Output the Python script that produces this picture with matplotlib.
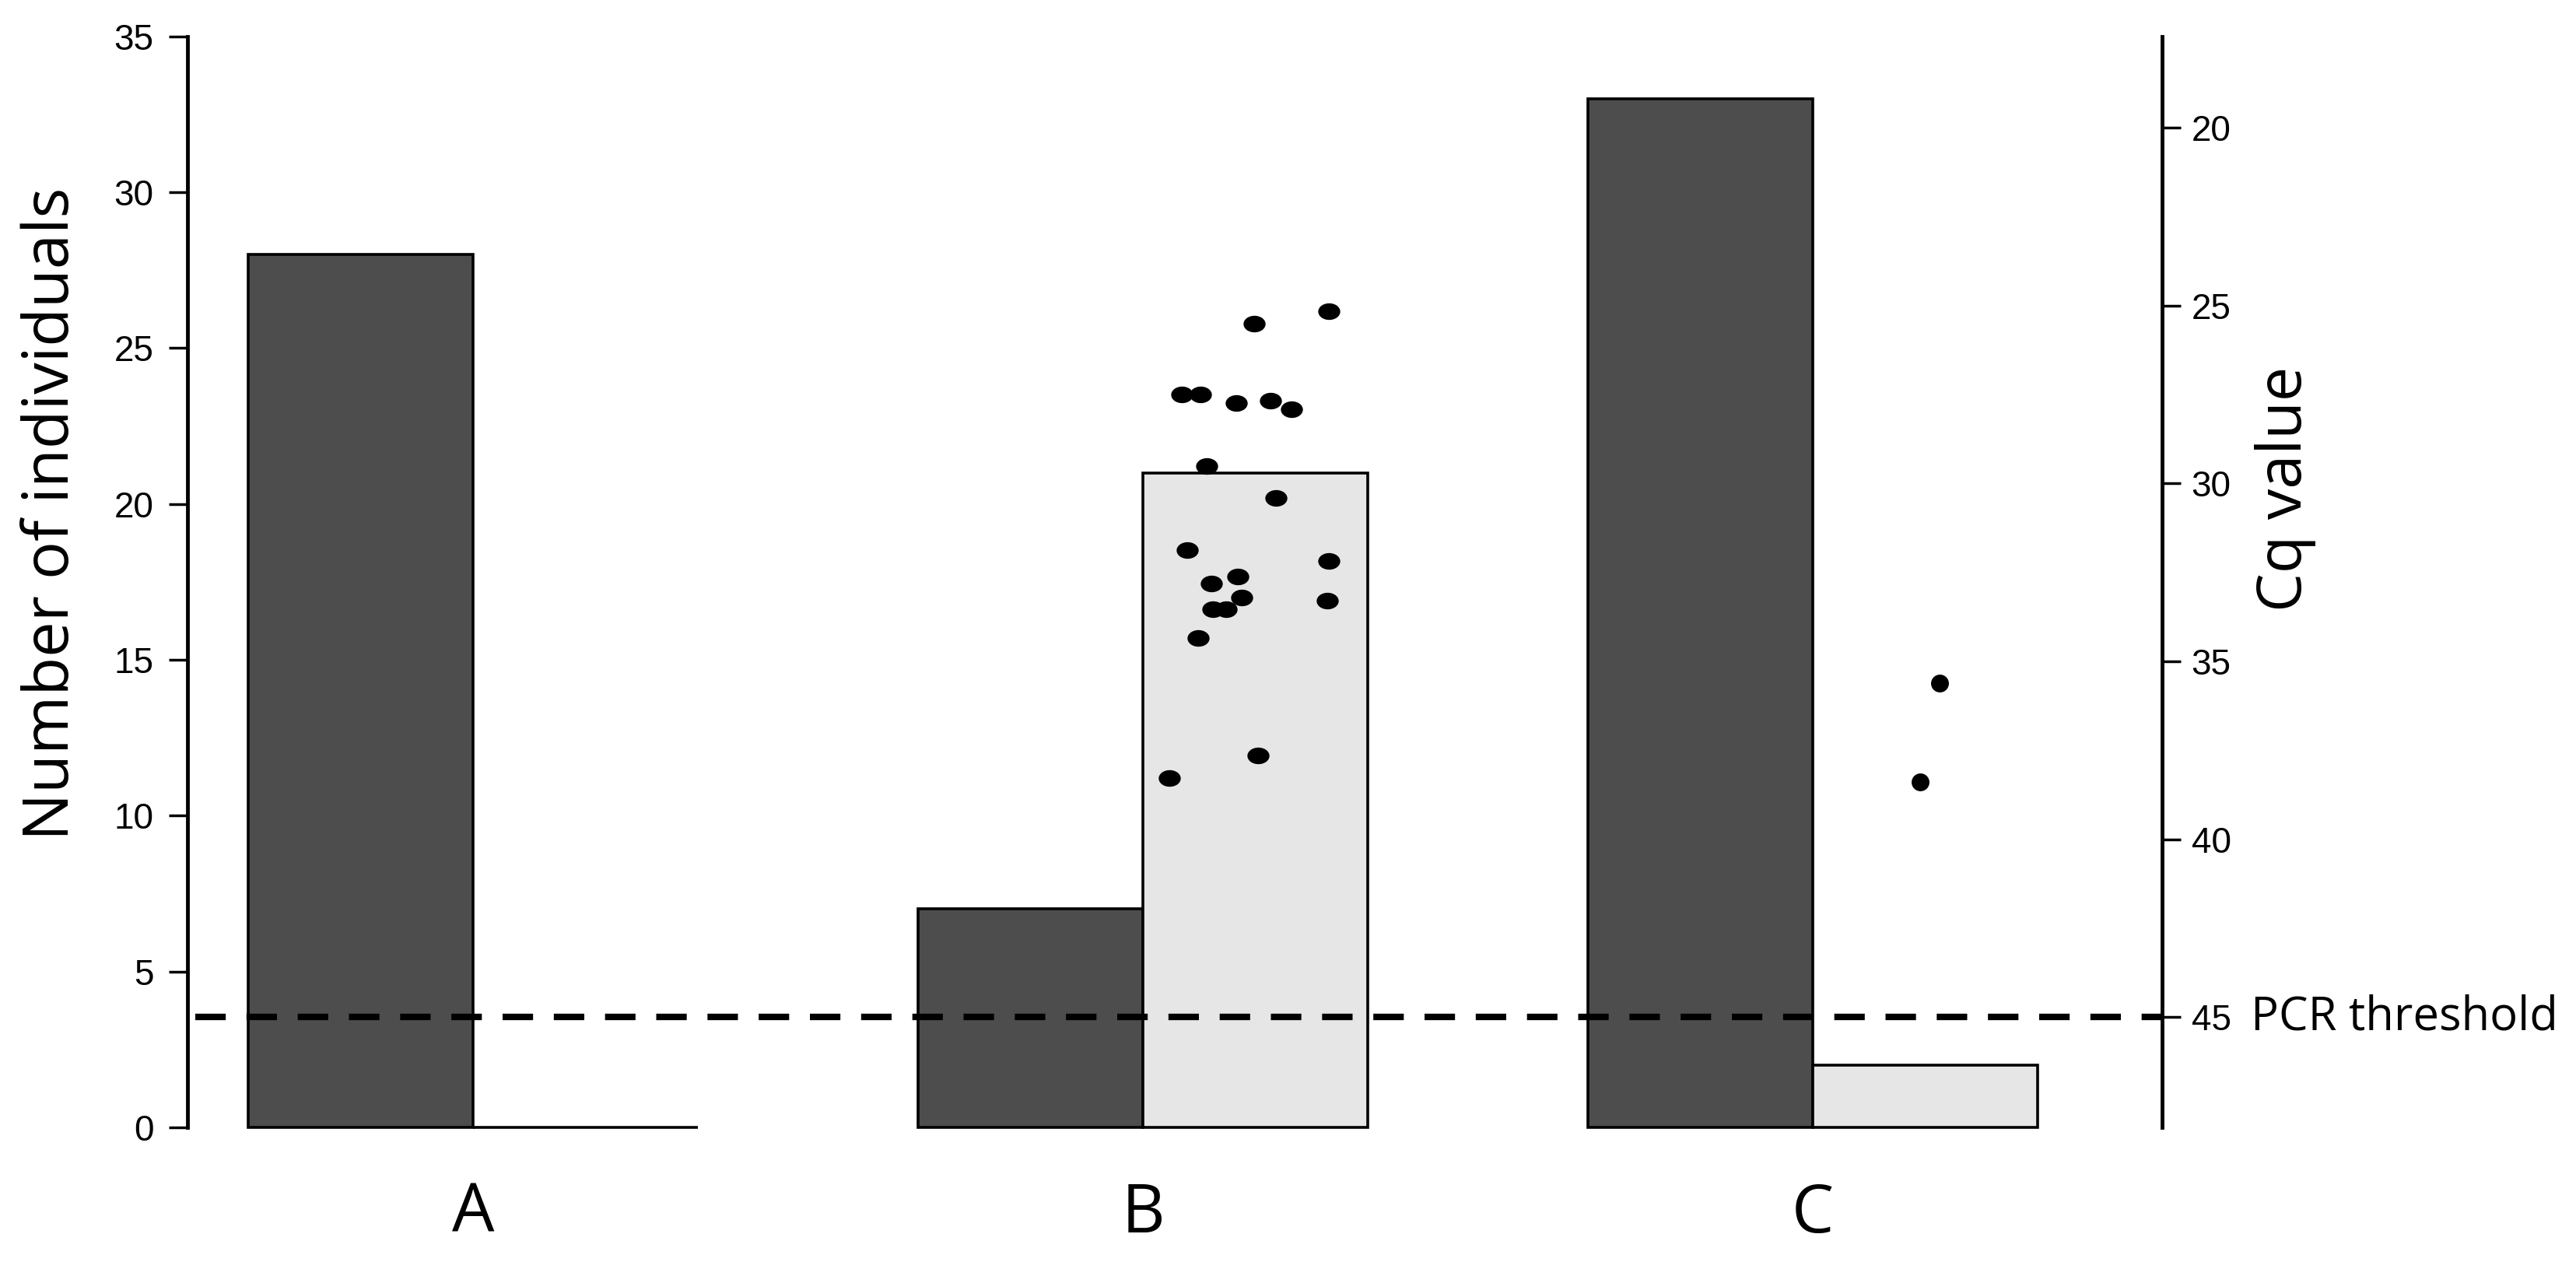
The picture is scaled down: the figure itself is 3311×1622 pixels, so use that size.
import matplotlib.pyplot as plt
from matplotlib.path import Path

# data
groups = ['A', 'B', 'C']
n_dark = [28, 7, 33]
n_light = [0, 21, 2]

# Cq values of positives (right axis), x = jittered position in group units
b_x = [1.166, 1.278, 1.058, 1.086, 1.139, 1.191, 1.222, 1.095, 1.199, 1.066,
       1.277, 1.102, 1.142, 1.105, 1.124, 1.148, 1.275, 1.083, 1.172, 1.040]
b_cq = [25.50, 25.16, 27.49, 27.49, 27.73, 27.68, 27.92, 29.51, 30.40, 31.88,
        32.17, 32.81, 32.62, 33.54, 33.54, 33.20, 33.30, 34.35, 37.64, 38.27]
c_x = [2.189, 2.160]
c_cq = [35.62, 38.39]
threshold = 45

bar_w = 0.3357
tick_font = 'Liberation Sans'
label_font = 'Open Sans'

fig = plt.figure(figsize=(33.12, 16.22), dpi=100)
ax = fig.add_axes([0.0728, 0.1067, 0.7663, 0.8645])

xs = list(range(len(groups)))
ax.bar([i - bar_w for i in xs], n_dark, width=bar_w, align='edge',
       color='#4d4d4d', edgecolor='black', linewidth=2.6, clip_on=False)
ax.bar(xs, n_light, width=bar_w, align='edge',
       color='#e6e6e6', edgecolor='black', linewidth=2.6, clip_on=False)

ax.set_xlim(-0.426, 2.5215)
ax.set_ylim(0, 35)
ax.set_yticks(range(0, 36, 5))
ax.set_xticks(xs)
ax.set_xticklabels(groups, fontsize=62, family=label_font)
ax.tick_params(axis='x', length=0, pad=50)
ax.tick_params(axis='y', length=17.5, width=2.5, pad=14)
for t in ax.get_yticklabels():
    t.set_fontsize(33)
    t.set_family(tick_font)

for s in ['top', 'right', 'bottom']:
    ax.spines[s].set_visible(False)
ax.spines['left'].set_linewidth(3.5)

ax2 = ax.twinx()
ax2.set_ylim(48.1, 17.43)
ax2.set_yticks(range(20, 46, 5))
ax2.tick_params(axis='y', length=17, width=2.5, pad=10)
for t in ax2.get_yticklabels():
    t.set_fontsize(33)
    t.set_family(tick_font)
for s in ['top', 'left', 'bottom']:
    ax2.spines[s].set_visible(False)
ax2.spines['right'].set_linewidth(3.5)

# PCR threshold
ax2.axhline(threshold, color='black', lw=6, dashes=(4.7, 3.2), xmin=0.004)
ax2.annotate('PCR threshold', xy=(1, threshold), xycoords=('axes fraction', 'data'),
             xytext=(82, 0), textcoords='offset points', ha='left', va='center',
             fontsize=43, family=label_font)

circ = Path.unit_circle()
ellipse = Path(circ.vertices * [1.0, 0.74], circ.codes)
ax2.plot(b_x, b_cq, ls='none', marker=ellipse, ms=19.4, color='black')
ax2.plot(c_x, c_cq, ls='none', marker='o', ms=15.5, color='black')

fig.text(0.0202, 0.593, 'Number of individuals', rotation=90, ha='center',
         va='center', fontsize=58.5, family=label_font)
fig.text(0.8868, 0.6128, 'Cq value', rotation=90, ha='center', va='center',
         fontsize=57, family=label_font)

fig.savefig('out.png', dpi=100)
